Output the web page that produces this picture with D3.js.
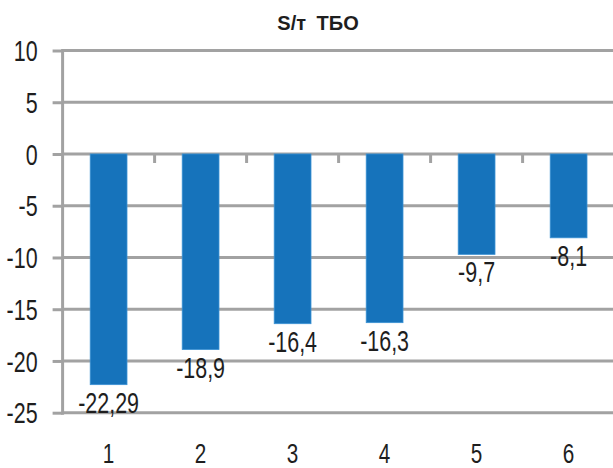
<!DOCTYPE html>
<html>
<head>
<meta charset="utf-8">
<script src="https://cdn.jsdelivr.net/npm/d3@7"></script>
<style>
  html, body { margin: 0; padding: 0; background: #fff; }
  svg { display: block; }
  text { font-family: "Liberation Sans", Arial, sans-serif; fill: #1e1e1e; }
</style>
</head>
<body>
<script>
// Chart data
const title = "S/т ТБО";
const categories = ["1", "2", "3", "4", "5", "6"];
const values = [-22.29, -18.9, -16.4, -16.3, -9.7, -8.1];
const valueLabels = ["-22,29", "-18,9", "-16,4", "-16,3", "-9,7", "-8,1"];
const yTicks = [10, 5, 0, -5, -10, -15, -20, -25];

const W = 613, H = 468;
const plotLeft = 62.6, plotRight = 614.6, plotTop = 50.5, plotBottom = 412.7;
const gridColor = "#a2a2a2";
const barColor = "#1673bb";
const narrow = 0.74;   // horizontal squeeze for the condensed number face
const numSize = 29;

const svg = d3.select("body").append("svg")
  .attr("width", W).attr("height", H);

const x = d3.scaleBand()
  .domain(categories)
  .range([plotLeft, plotRight])
  .paddingInner(0.6)
  .paddingOuter(0.3);

const y = d3.scaleLinear()
  .domain([-25, 10])
  .range([plotBottom, plotTop]);

// Horizontal gridlines
svg.append("g")
  .selectAll("line")
  .data(yTicks)
  .join("line")
  .attr("x1", plotLeft).attr("x2", W)
  .attr("y1", d => y(d)).attr("y2", d => y(d))
  .attr("stroke", gridColor).attr("stroke-width", 3);

// Left value axis
const yAxis = svg.append("g")
  .attr("transform", `translate(${plotLeft},0)`)
  .call(d3.axisLeft(y).tickValues(yTicks).tickSize(10).tickPadding(14)
    .tickFormat(d => String(d)));
yAxis.select(".domain")
  .attr("d", `M0,${plotTop - 1.5}V${plotBottom + 2}`)
  .attr("stroke", gridColor).attr("stroke-width", 3);
yAxis.selectAll(".tick line").attr("stroke", gridColor).attr("stroke-width", 3);
yAxis.selectAll(".tick text")
  .attr("x", 0)
  .attr("dy", "0.35em")
  .attr("transform", `translate(-25,0) scale(${narrow},1)`)
  .style("font-size", numSize + "px")
  .attr("fill", "#1e1e1e");

// Bars
svg.append("g")
  .selectAll("rect")
  .data(values)
  .join("rect")
  .attr("x", (d, i) => x(categories[i]))
  .attr("width", x.bandwidth())
  .attr("y", d => y(Math.max(0, d)))
  .attr("height", d => Math.abs(y(d) - y(0)))
  .attr("fill", barColor)
  .attr("stroke", "#3b92d4")
  .attr("stroke-width", 0.8);

// Category separator ticks hanging under the zero line
const sep = categories.map(c => x(c) + x.bandwidth() + (x.step() - x.bandwidth()) / 2);
svg.append("g")
  .selectAll("line")
  .data(sep)
  .join("line")
  .attr("x1", d => d).attr("x2", d => d)
  .attr("y1", y(0)).attr("y2", y(0) + 9)
  .attr("stroke", gridColor).attr("stroke-width", 3);

// Value labels under each bar
svg.append("g")
  .selectAll("text")
  .data(values)
  .join("text")
  .attr("transform", (d, i) =>
    `translate(${x(categories[i]) + x.bandwidth() / 2},${y(d) + 28}) scale(${narrow},1)`)
  .attr("text-anchor", "middle")
  .style("font-size", numSize + "px")
  .text((d, i) => valueLabels[i]);

// Category labels along the bottom
const xAxis = svg.append("g")
  .attr("transform", `translate(0,${plotBottom})`)
  .call(d3.axisBottom(x).tickSize(0).tickPadding(0));
xAxis.select(".domain").remove();
xAxis.selectAll(".tick text")
  .attr("y", 0)
  .attr("dy", 0)
  .attr("transform", `translate(0,50) scale(${narrow},1)`)
  .style("font-size", "28px")
  .attr("fill", "#1e1e1e");

// Title
svg.append("text")
  .attr("x", 318).attr("y", 30)
  .attr("text-anchor", "middle")
  .style("font-size", "20px")
  .style("font-weight", "bold")
  .style("word-spacing", "5px")
  .text(title);
</script>
</body>
</html>
